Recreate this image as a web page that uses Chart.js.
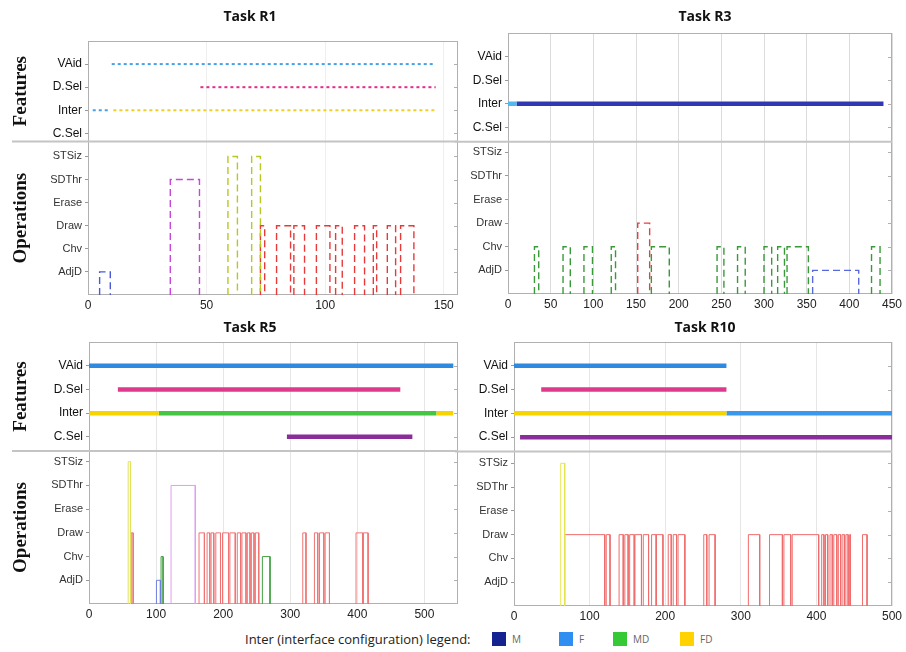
<!DOCTYPE html>
<html>
<head>
<meta charset="utf-8">
<title>Tasks R1 R3 R5 R10 - features and operations</title>
<script src="https://cdn.jsdelivr.net/npm/chart.js@4.4.1/dist/chart.umd.min.js"></script>
<style>
  body { margin: 0; background: #fff; width: 906px; height: 652px; position: relative; overflow: hidden; font-family: 'Open Sans', sans-serif; }
  canvas { position: absolute; }
  #legend { position: absolute; left: 0; top: 630px; width: 906px; height: 20px; color: #222; }
  #legend span { position: absolute; top: 0; line-height: 18px; white-space: nowrap; }
  #legend .txt { font-size: 13px; }
  #legend .sw { width: 14px; height: 14px; top: 2px; }
  #legend .lab { font-size: 10px; color: #666; }
</style>
</head>
<body>
<canvas id="r1" width="470" height="318" style="left:0;top:0"></canvas>
<canvas id="r3" width="451" height="318" style="left:455px;top:0"></canvas>
<canvas id="r5" width="470" height="314" style="left:0;top:312px"></canvas>
<canvas id="r10" width="451" height="314" style="left:455px;top:312px"></canvas>
<div id="legend"></div>

<script>
// axis categories
const featureLabels = ['C.Sel', 'Inter', 'D.Sel', 'VAid'];
const opLabels = ['AdjD', 'Chv', 'Draw', 'Erase', 'SDThr', 'STSiz'];
const interCodes = ['M', 'F', 'MD', 'FD'];
const interColors = ['#14238f', '#2f8ff0', '#35c935', '#ffd200'];

// Task R1
const r1Ticks = [0, 50, 100, 150];
const r1VAid = [[10, 146.6]];
const r1DSel = [[47.4, 146.6]];
const r1InterF = [[2, 9.4]];
const r1InterFD = [[10.7, 146.6]];
const r1AdjD = [[4.9, 9.4]];
const r1SDThr = [[34.7, 47]];
const r1STSiz = [[59, 63], [69, 72.7]];
const r1Draw = [[72.7, 74.5], [79.5, 85.4], [86.8, 91.3], [96.3, 102], [104.4, 107.2],
                [112.4, 116.6], [120.3, 121.7], [126.2, 129.7], [131.8, 137.4]];

// Task R3
const r3Ticks = [0, 50, 100, 150, 200, 250, 300, 350, 400, 450];
const r3InterF = [[0, 10]];
const r3InterM = [[10, 440]];
const r3Chv = [[31, 36], [64.5, 73], [89, 99], [121, 126], [168, 189], [245, 253],
               [269, 278], [300, 309], [316, 324], [327, 352], [426, 436]];
const r3Draw = [[152, 166]];
const r3AdjD = [[357, 411]];

// Task R5
const r5Ticks = [0, 100, 200, 300, 400, 500];
const r5VAid = [[0, 543]];
const r5DSel = [[43, 464]];
const r5InterFD = [[0, 104], [518, 543]];
const r5InterMD = [[104, 518]];
const r5CSel = [[295, 482]];
const r5STSiz = [[58.4, 61.9]];
const r5Draw = [[62.9, 65.8], [164, 172], [176, 180], [182, 186], [189, 196], [199, 208],
                [210, 218], [221, 226], [228, 234], [236, 240], [242, 246], [248, 253],
                [318.6, 323.4], [336, 341], [343.6, 350], [352, 358.4], [398, 408], [409, 416]];
const r5AdjD = [[100.5, 106.4]];
const r5Chv = [[107.4, 110.4], [258.4, 269.8]];
const r5SDThr = [[122.3, 158.4]];

// Task R10
const r10Ticks = [0, 100, 200, 300, 400, 500];
const r10VAid = [[0, 281]];
const r10DSel = [[36, 281]];
const r10InterFD = [[0, 281]];
const r10InterF = [[281, 500]];
const r10CSel = [[8, 500]];
const r10STSiz = [[61.8, 67.1]];
const r10Draw = [[67, 120], [122, 127], [139, 144.5], [146.6, 151], [153, 159], [160, 168.6],
                 [171, 178], [182, 188], [188.5, 197], [204, 208], [210.6, 215], [217, 226],
                 [251, 255], [258, 266], [310, 325], [338, 355], [357, 366], [368, 403],
                 [407, 410], [412, 415], [418, 421], [423, 427], [429, 432], [434, 437],
                 [439, 442], [444, 445], [461, 467]];

// horizontal runs at one level, separated by gaps
function runs(ranges, y) {
    const pts = [];
    ranges.forEach(r => {
        pts.push({x: r[0], y: y}, {x: r[1], y: y}, {x: r[1], y: null});
    });
    return pts;
}

// step pulses from the baseline up to the operation level
function pulses(ranges, y) {
    const pts = [];
    ranges.forEach(r => {
        pts.push({x: r[0], y: 0}, {x: r[0], y: y}, {x: r[1], y: y}, {x: r[1], y: 0}, {x: r[1], y: null});
    });
    return pts;
}

const featLevel = name => featureLabels.indexOf(name) + 1;
const opLevel = name => opLabels.indexOf(name) + 1;

function feat(ranges, name, color, thin) {
    return {
        data: runs(ranges, featLevel(name)), yAxisID: 'yF',
        borderColor: color, borderWidth: thin ? 2 : 4.5,
        borderDash: thin ? [3, 3] : [], pointRadius: 0, spanGaps: false
    };
}

function op(ranges, name, color, dashed) {
    return {
        data: pulses(ranges, opLevel(name)), yAxisID: 'yO',
        borderColor: color, borderWidth: dashed ? 1.4 : 1,
        borderDash: dashed ? [7, 4] : [], pointRadius: 0, spanGaps: false
    };
}

const panelTitle = {
    id: 'panelTitle',
    afterDraw(chart, args, opts) {
        const ctx = chart.ctx;
        ctx.save();
        ctx.font = 'bold 14px "Open Sans"';
        ctx.fillStyle = '#111';
        ctx.textAlign = 'center';
        ctx.textBaseline = 'middle';
        ctx.fillText(opts.text, opts.x, opts.y);
        ctx.restore();
    }
};

const frame = {
    id: 'frame',
    beforeDatasetsDraw(chart, args, opts) {
        const ctx = chart.ctx;
        const a = chart.chartArea;
        const yf = chart.scales.yF;
        ctx.save();
        ctx.strokeStyle = '#b0b0b0';
        ctx.lineWidth = 1;
        ctx.strokeRect(a.left + 0.5, a.top + 0.5, a.width - 1, a.height - 1);
        ctx.beginPath();
        ['yF', 'yO'].forEach(id => {
            const s = chart.scales[id];
            s.ticks.forEach(t => {
                const y = Math.round(s.getPixelForValue(t.value)) + 0.5;
                ctx.moveTo(a.right - 4, y);
                ctx.lineTo(a.right, y);
            });
        });
        ctx.stroke();
        ctx.beginPath();
        ctx.strokeStyle = '#c4c4c4';
        ctx.lineWidth = 2;
        ctx.moveTo(opts.from, yf.bottom);
        ctx.lineTo(a.right, yf.bottom);
        ctx.stroke();
        ctx.restore();
    }
};

const opFont = {family: 'Liberation Sans', size: 11};
const featFont = {family: 'Liberation Sans', size: 12};
const axisTitleFont = {family: 'Liberation Serif', size: 19, weight: 'bold'};

function makePanel(p) {
    new Chart(document.getElementById(p.id), {
        type: 'line',
        data: {datasets: p.datasets},
        plugins: [panelTitle, frame],
        options: {
            responsive: false,
            animation: false,
            layout: {padding: {top: p.top, right: p.right, left: 0, bottom: 0}, autoPadding: false},
            elements: {line: {tension: 0}},
            plugins: {
                legend: {display: false},
                tooltip: {enabled: false},
                panelTitle: {text: p.title, x: 250, y: p.titleY},
                frame: {from: p.dividerFrom}
            },
            scales: {
                x: {
                    type: 'linear', min: 0, max: p.xMax,
                    afterBuildTicks: s => { s.ticks = p.xTicks.map(v => ({value: v})); },
                    ticks: {font: {family: 'Liberation Sans', size: 12}, color: '#222', padding: 3, maxRotation: 0},
                    grid: {color: p.gridColor, drawTicks: false},
                    border: {display: false},
                    afterFit: s => { s.height = p.xH; }
                },
                yO: {
                    type: 'linear', position: 'left', stack: 'panel', stackWeight: p.opsMax,
                    min: 0, max: p.opsMax,
                    afterBuildTicks: s => { s.ticks = opLabels.map((_, i) => ({value: i + 1})); },
                    ticks: {callback: v => opLabels[v - 1], font: opFont, color: '#333', padding: 3},
                    grid: {drawOnChartArea: false, tickLength: 3, color: '#999'},
                    border: {display: false},
                    title: {display: p.left, text: 'Operations', font: axisTitleFont, color: '#111', padding: {top: 10, bottom: 0}},
                    afterFit: s => { s.width = p.yW; }
                },
                yF: {
                    type: 'linear', position: 'left', stack: 'panel', stackWeight: 5 - p.featMin,
                    min: p.featMin, max: 5,
                    afterBuildTicks: s => { s.ticks = featureLabels.map((_, i) => ({value: i + 1})); },
                    ticks: {callback: v => featureLabels[v - 1], font: featFont, color: '#111', padding: 3},
                    grid: {drawOnChartArea: false, tickLength: 3, color: '#999'},
                    border: {display: false},
                    title: {display: p.left, text: 'Features', font: axisTitleFont, color: '#111', padding: {top: 10, bottom: 0}},
                    afterFit: s => { s.width = p.yW; }
                }
            }
        }
    });
}

makePanel({
    id: 'r1', title: 'Task R1', titleY: 17, left: true, top: 41, right: 12, yW: 88, xH: 23,
    xMax: 156, xTicks: r1Ticks, featMin: 0.65, opsMax: 6.65, gridColor: '#efefef', dividerFrom: 12,
    datasets: [
        feat(r1VAid, 'VAid', '#4aa0e6', true),
        feat(r1DSel, 'D.Sel', '#e0308a', true),
        feat(r1InterF, 'Inter', '#4aa0e6', true),
        feat(r1InterFD, 'Inter', '#f0d020', true),
        op(r1AdjD, 'AdjD', '#4a5ad8', true),
        op(r1SDThr, 'SDThr', '#c846dc', true),
        op(r1STSiz, 'STSiz', '#b8c820', true),
        op(r1Draw, 'Draw', '#e83a3a', true)
    ]
});

makePanel({
    id: 'r3', title: 'Task R3', titleY: 17, left: false, top: 33, right: 14, yW: 53, xH: 24,
    xMax: 450, xTicks: r3Ticks, featMin: 0.4, opsMax: 6.45, gridColor: '#dcdcdc', dividerFrom: 0,
    datasets: [
        feat(r3InterF, 'Inter', '#52b8f0', false),
        feat(r3InterM, 'Inter', '#3038b4', false),
        op(r3Chv, 'Chv', '#3a9a3a', true),
        op(r3Draw, 'Draw', '#e84040', true),
        op(r3AdjD, 'AdjD', '#5a68e0', true)
    ]
});

makePanel({
    id: 'r5', title: 'Task R5', titleY: 16, left: true, top: 30, right: 12, yW: 89, xH: 22,
    xMax: 550, xTicks: r5Ticks, featMin: 0.4, opsMax: 6.45, gridColor: '#e6e6e6', dividerFrom: 12,
    datasets: [
        feat(r5VAid, 'VAid', '#2d8ae0', false),
        feat(r5DSel, 'D.Sel', '#dd3a8e', false),
        feat(r5InterFD, 'Inter', '#f5d400', false),
        feat(r5InterMD, 'Inter', '#44c644', false),
        feat(r5CSel, 'C.Sel', '#8a2c9a', false),
        op(r5STSiz, 'STSiz', '#e2e25a', false),
        op(r5Draw, 'Draw', '#f07474', false),
        op(r5AdjD, 'AdjD', '#7080e0', false),
        op(r5Chv, 'Chv', '#40a040', false),
        op(r5SDThr, 'SDThr', '#e09ef0', false)
    ]
});

makePanel({
    id: 'r10', title: 'Task R10', titleY: 16, left: false, top: 30, right: 14, yW: 59, xH: 20,
    xMax: 500, xTicks: r10Ticks, featMin: 0.4, opsMax: 6.5, gridColor: '#e6e6e6', dividerFrom: 0,
    datasets: [
        feat(r10VAid, 'VAid', '#2d8ae0', false),
        feat(r10DSel, 'D.Sel', '#dd3a8e', false),
        feat(r10InterFD, 'Inter', '#f5d400', false),
        feat(r10InterF, 'Inter', '#3a98ec', false),
        feat(r10CSel, 'C.Sel', '#8a2c9a', false),
        op(r10STSiz, 'STSiz', '#e6e650', false),
        op(r10Draw, 'Draw', '#f06c6c', false)
    ]
});

// legend for the Inter row
const legendSwatchX = [492, 559, 613, 680];
const legend = document.getElementById('legend');
legend.innerHTML = '<span class="txt" style="left:245px">Inter (interface configuration) legend:</span>';
interCodes.forEach((code, i) => {
    legend.innerHTML += '<span class="sw" style="left:' + legendSwatchX[i] + 'px;background:' + interColors[i] + '"></span>' +
        '<span class="lab" style="left:' + (legendSwatchX[i] + 20) + 'px">' + code + '</span>';
});
</script>
</body>
</html>
